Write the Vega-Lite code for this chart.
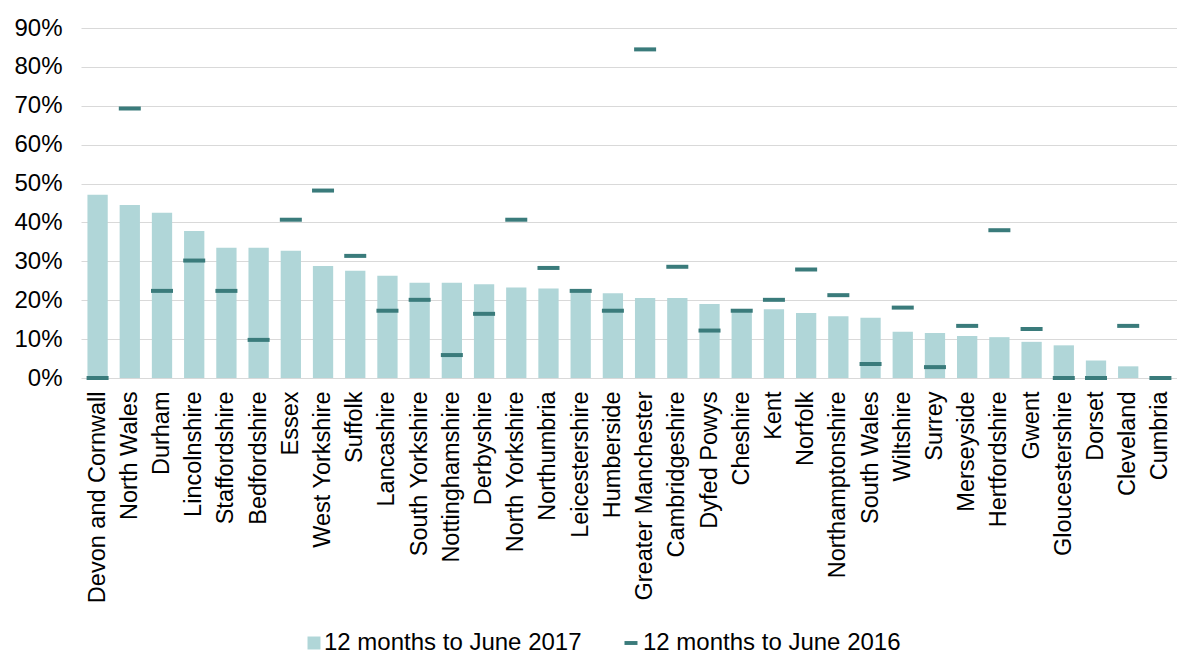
{
  "$schema": "https://vega.github.io/schema/vega-lite/v6.json",
  "autosize": {"type": "none"},
  "width": 1096,
  "height": 350,
  "padding": {"left": 81, "top": 28, "right": 0, "bottom": 277},
  "background": "white",
  "config": {
    "font": "Liberation Sans",
    "view": {"stroke": null},
    "axis": {"labelFont": "Liberation Sans", "labelColor": "#000000"},
    "axisY": {
      "title": null,
      "format": ".0%",
      "values": [0, 0.1, 0.2, 0.3, 0.4, 0.5, 0.6, 0.7, 0.8, 0.9],
      "labelFontSize": 24,
      "labelPadding": 19,
      "labelOverlap": false,
      "labelBound": false,
      "labelFlush": false,
      "ticks": false,
      "domain": false,
      "grid": true,
      "gridColor": "#D9D9D9",
      "gridWidth": 1.2
    }
  },
  "data": {
    "values": [
      {"force": "Devon and Cornwall", "y2017": 0.471, "y2016": 0.0},
      {"force": "North Wales", "y2017": 0.445, "y2016": 0.693},
      {"force": "Durham", "y2017": 0.425, "y2016": 0.224},
      {"force": "Lincolnshire", "y2017": 0.378, "y2016": 0.302},
      {"force": "Staffordshire", "y2017": 0.335, "y2016": 0.224},
      {"force": "Bedfordshire", "y2017": 0.335, "y2016": 0.098},
      {"force": "Essex", "y2017": 0.327, "y2016": 0.407},
      {"force": "West Yorkshire", "y2017": 0.288, "y2016": 0.482},
      {"force": "Suffolk", "y2017": 0.276, "y2016": 0.314},
      {"force": "Lancashire", "y2017": 0.263, "y2016": 0.173},
      {"force": "South Yorkshire", "y2017": 0.245, "y2016": 0.201},
      {"force": "Nottinghamshire", "y2017": 0.245, "y2016": 0.059},
      {"force": "Derbyshire", "y2017": 0.241, "y2016": 0.165},
      {"force": "North Yorkshire", "y2017": 0.233, "y2016": 0.407},
      {"force": "Northumbria", "y2017": 0.23, "y2016": 0.283},
      {"force": "Leicestershire", "y2017": 0.22, "y2016": 0.224},
      {"force": "Humberside", "y2017": 0.218, "y2016": 0.173},
      {"force": "Greater Manchester", "y2017": 0.206, "y2016": 0.845},
      {"force": "Cambridgeshire", "y2017": 0.206, "y2016": 0.286},
      {"force": "Dyfed Powys", "y2017": 0.19, "y2016": 0.122},
      {"force": "Cheshire", "y2017": 0.175, "y2016": 0.173},
      {"force": "Kent", "y2017": 0.177, "y2016": 0.201},
      {"force": "Norfolk", "y2017": 0.167, "y2016": 0.279},
      {"force": "Northamptonshire", "y2017": 0.159, "y2016": 0.213},
      {"force": "South Wales", "y2017": 0.155, "y2016": 0.036},
      {"force": "Wiltshire", "y2017": 0.119, "y2016": 0.181},
      {"force": "Surrey", "y2017": 0.116, "y2016": 0.028},
      {"force": "Merseyside", "y2017": 0.108, "y2016": 0.134},
      {"force": "Hertfordshire", "y2017": 0.105, "y2016": 0.38},
      {"force": "Gwent", "y2017": 0.093, "y2016": 0.126},
      {"force": "Gloucestershire", "y2017": 0.084, "y2016": 0.0},
      {"force": "Dorset", "y2017": 0.045, "y2016": 0.0},
      {"force": "Cleveland", "y2017": 0.03, "y2016": 0.134},
      {"force": "Cumbria", "y2017": 0.0, "y2016": 0.0}
    ]
  },
  "encoding": {
    "x": {
      "field": "force",
      "type": "nominal",
      "sort": null,
      "scale": {"paddingInner": 0.37, "paddingOuter": 0.2},
      "axis": {
        "title": null,
        "labelAngle": -90,
        "labelFontSize": 23.5,
        "labelPadding": 13,
        "ticks": false,
        "domain": false,
        "grid": false,
        "labelLimit": 400,
        "labelOverlap": false
      }
    }
  },
  "layer": [
    {
      "mark": {"type": "bar"},
      "encoding": {
        "y": {
          "field": "y2017",
          "type": "quantitative",
          "scale": {"domain": [0, 0.9], "nice": false},
          "axis": {"values": [0, 0.1, 0.2, 0.3, 0.4, 0.5, 0.6, 0.7, 0.8, 0.9]}
        },
        "color": {
          "datum": "12 months to June 2017",
          "type": "nominal",
          "scale": {
            "domain": ["12 months to June 2017", "12 months to June 2016"],
            "range": ["#B0D6D8", "#3A7B7B"]
          },
          "legend": {
            "title": null,
            "orient": "none",
            "direction": "horizontal",
            "legendX": 221,
            "legendY": 603,
            "labelFontSize": 24,
            "labelColor": "#000000",
            "labelFont": "Liberation Sans",
            "symbolSize": 169,
            "symbolStrokeWidth": 0,
            "labelOffset": -2,
            "columnPadding": 39,
            "labelLimit": 400,
            "encode": {
              "symbols": {
                "update": {
                  "shape": {"signal": "datum.value === '12 months to June 2016' ? 'M-1.31,-0.3H0.69V0.3H-1.31Z' : 'square'"}
                }
              }
            }
          }
        }
      }
    },
    {
      "mark": {"type": "tick", "size": 22, "thickness": 4, "opacity": 1},
      "encoding": {
        "y": {
          "field": "y2016",
          "type": "quantitative",
          "axis": {"values": [0, 0.1, 0.2, 0.3, 0.4, 0.5, 0.6, 0.7, 0.8, 0.9]}
        },
        "color": {"datum": "12 months to June 2016", "type": "nominal"}
      }
    }
  ]
}
